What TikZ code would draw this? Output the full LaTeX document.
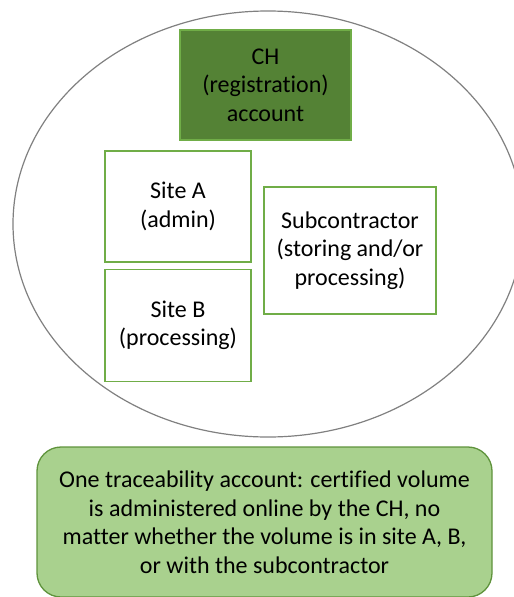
\documentclass[tikz,border=0pt]{standalone}
\usepackage{fontspec}
\setmainfont[Ligatures=NoCommon]{Carlito}
\usetikzlibrary{positioning}
\definecolor{darkleaf}{HTML}{548235}
\definecolor{leaf}{HTML}{70AD47}
\definecolor{paleleaf}{HTML}{A9D18E}
\definecolor{rim}{HTML}{808080}

\begin{document}
\begin{tikzpicture}
        [
            x=1pt, y=-1pt,
            font=\fontsize{24}{28.5}\selectfont,
            site/.style={rectangle, draw=leaf, line width=1.3pt, fill=white,
                         align=center, inner sep=0pt, minimum width=#1},
            account/.style={site=171pt, fill=darkleaf, minimum height=110pt},
            note/.style={rectangle, rounded corners=24pt, draw=leaf!85!black,
                         line width=1.3pt, fill=paleleaf, align=center,
                         minimum width=455pt, minimum height=150pt}
        ]
        \useasboundingbox (0,0) rectangle (514,597);
        \draw [rim, line width=1.2pt] (268,224) ellipse [x radius=255, y radius=213];
        \node (ch) [account] at (265.5,85) {CH\\(registration)\\account};
        \node (siteA) [site=146pt, minimum height=111pt] at (178,206.5) {Site A\\(admin)};
        \node (siteB) [site=146pt, minimum height=112pt, below=6pt of siteA] {Site B\\(processing)};
        \node (sub) [site=172pt, minimum height=127pt] at (350,250.5)
            {Subcontractor\\(storing and/or\\processing)};
        \node (info) [note] at (264.5,522)
            {One traceability account: certified volume\\is administered online by the CH, no\\matter whether the volume is in site A, B,\\or with the subcontractor};
    \end{tikzpicture}
\end{document}
